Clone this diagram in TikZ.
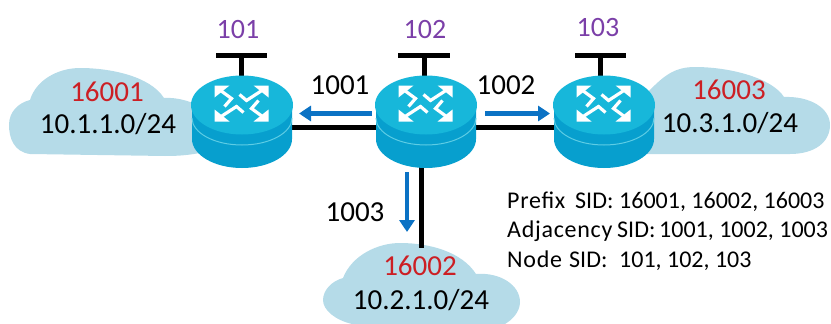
\documentclass[tikz,border=0pt]{standalone}
\usepackage{fontspec}
\setmainfont{Carlito}
\usetikzlibrary{arrows.meta}
\definecolor{cloudc}{HTML}{B5DBE8}
\definecolor{topc}{HTML}{17B7DA}
\definecolor{sidec}{HTML}{079FCE}
\definecolor{bluea}{HTML}{0B72C4}
\definecolor{sidc}{HTML}{CC1F24}
\definecolor{nodec}{HTML}{7B3FA8}
\newcommand{\fs}[1]{\fontsize{#1}{#1}\selectfont}
\newcommand{\lsp}[1]{{\addfontfeature{LetterSpace=3}#1}}
\tikzset{
  x=1pt,y=-1pt,
  linkline/.style={line width=5pt,black},
  barline/.style={line width=5pt,black},
  sidarrow/.style={line width=4.5pt,bluea,-{Triangle[length=12pt,width=15pt]}},
  cloudshape/.style={fill=cloudc,draw=none},
  lab/.style={inner sep=0pt,font=\fs{29}},
  sidlab/.style={lab,text=sidc},
  nodelab/.style={inner sep=0pt,font=\fs{28},text=nodec},
  legend/.style={inner sep=0pt,anchor=west,font=\fs{24}},
  router/.pic={
    \fill[sidec] (-50,0) -- (-50,34) arc[x radius=50,y radius=29,start angle=180,end angle=0] -- (50,0) -- cycle;
    \draw[topc!70!white,line width=1pt] (-50,13) arc[x radius=50,y radius=27,start angle=180,end angle=0];
    \fill[topc] (0,0) ellipse[x radius=51,y radius=29.5];
    \begin{scope}[shift={(-0.5,-1.5)},white,line width=3.2pt,line join=miter]
      \foreach \cx/\cy/\ex/\ey/\fx/\fy in {-25/-16/-10/-5/-17/3, 25/-16/5/-3/-2/-9, 25/16/10/5/17/-3, -25/16/-5/3/2/9}{
        \draw (\cx,\cy) -- (\ex,\ey) -- (\fx,\fy);
      }
      \foreach \sx/\sy in {1/1,1/-1,-1/1,-1/-1}{
        \fill[white,xscale=\sx,yscale=\sy] (27,-18) -- (12,-18) -- (27,-6) -- cycle;
      }
    \end{scope}
  }
}
\begin{document}
\begin{tikzpicture}
\useasboundingbox (0,0) rectangle (831,324);
% anchors
\coordinate (r1) at (242,105);
\coordinate (r2) at (426,105);
\coordinate (r3) at (604,105);
\coordinate (j1) at (242,127);
\coordinate (j2) at (426,127);
\coordinate (j3) at (604,127);
\coordinate (d2) at (421.5,150);
\coordinate (c2t) at (421.5,248);
% clouds
\fill[cloudshape] (30,154) .. controls (14,152) and (9,138) .. (9,125)
  .. controls (9,112) and (18,103) .. (30,100)
  .. controls (36,80) and (58,68) .. (80,68)
  .. controls (110,68) and (150,76) .. (164,98)
  .. controls (178,97) and (195,102) .. (205,110)
  -- (205,152) .. controls (190,155) and (180,156) .. (165,156) -- cycle;
\fill[cloudshape] (352,324) .. controls (335,320) and (323,310) .. (323,300)
  .. controls (323,290) and (332,281) .. (343,278)
  .. controls (352,255) and (378,243) .. (400,243)
  .. controls (430,243) and (462,252) .. (476,274)
  .. controls (500,272) and (520,285) .. (520,302)
  .. controls (520,312) and (512,320) .. (505,324) -- cycle;
\fill[cloudshape] (640,154) -- (640,100)
  .. controls (660,80) and (670,67) .. (695,67)
  .. controls (730,67) and (772,78) .. (784,97)
  .. controls (810,96) and (830,108) .. (830,125)
  .. controls (830,142) and (815,154) .. (790,154) -- cycle;
% links
\draw[linkline] (j1) -- (j2);
\draw[linkline] (j2) -- (j3);
\draw[linkline] (d2) -- (c2t);
% T bars
\draw[barline] (216,55.5) -- (267,55.5) (241,55.5) -- (241,80);
\draw[barline] (398,55.5) -- (450,55.5) (424,55.5) -- (424,80);
\draw[barline] (575,55.5) -- (626,55.5) (600,55.5) -- (600,80);
% routers
\pic at (r1) {router};
\pic at (r2) {router};
\pic at (r3) {router};
% arrows
\coordinate (a1s) at (372,113.5); \coordinate (a1e) at (299,113.5);
\coordinate (a2s) at (485,113.5); \coordinate (a2e) at (550,113.5);
\coordinate (a3s) at (407,172); \coordinate (a3e) at (407,232);
\draw[sidarrow] (a1s) -- (a1e);
\draw[sidarrow] (a2s) -- (a2e);
\draw[sidarrow] (a3s) -- (a3e);
% labels
\node[nodelab] (n101) at (238,30) {101};
\node[nodelab] (n102) at (425,30) {102};
\node[nodelab] (n103) at (598,28) {103};
\node[sidlab] (s1) at (107,92) {16001};
\node[lab] (p1) at (108,124) {10.1.1.0/24};
\node[sidlab] (s3) at (729,90) {16003};
\node[lab] (p3) at (730,123) {10.3.1.0/24};
\node[sidlab] (s2) at (420,266) {16002};
\node[lab] (p2) at (421,300) {10.2.1.0/24};
\node[lab] (l1) at (340,85) {1001};
\node[lab] (l2) at (506,85) {1002};
\node[lab] (l3) at (355,212) {1003};
\node[legend] (t1) at (507,202) {\rlap{\lsp{Prefix}}\hspace{68pt}\rlap{SID:}\hspace{44pt}16001, 16002, 16003};
\node[legend] (t2) at (507,231) {\rlap{\lsp{Adjacency}}\hspace{110pt}\rlap{SID:}\hspace{42pt}1001, 1002, 1003};
\node[legend] (t3) at (507,261) {\rlap{\lsp{Node}}\hspace{62pt}\rlap{SID:}\hspace{50pt}101, 102, 103};
\end{tikzpicture}
\end{document}
